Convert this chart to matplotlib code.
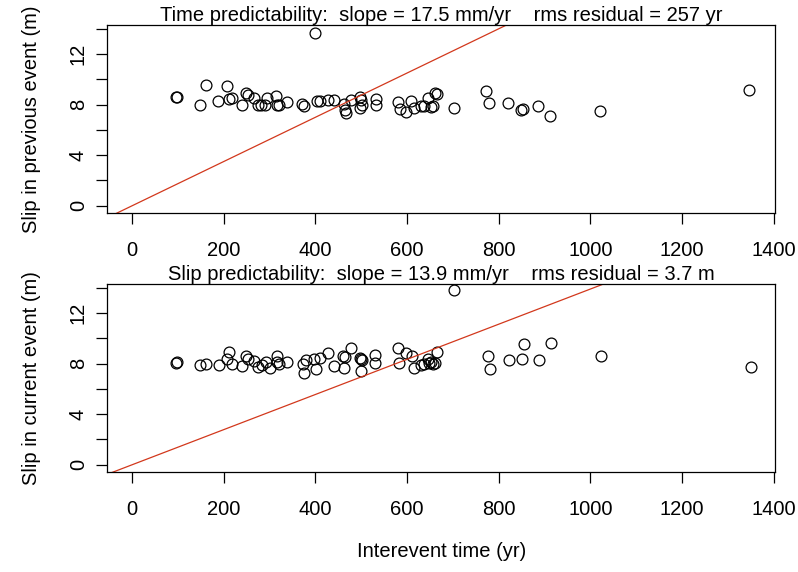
import matplotlib
matplotlib.use("Agg")
import matplotlib.pyplot as plt

plt.rcParams['font.family'] = ['Liberation Sans', 'DejaVu Sans']

# time predictability: interevent time vs slip in previous event
t_prev = [95, 97, 162, 148, 207, 188, 211, 217, 240, 249, 252, 267, 274, 281,
          289, 295, 314, 316, 320, 337, 371, 376, 400, 404, 411, 427, 440, 462,
          464, 467, 478, 497, 500, 498, 501, 532, 532, 580, 584, 598, 609, 615,
          631, 638, 645, 652, 657, 660, 666, 702, 773, 779, 820, 848, 854, 886,
          913, 1021, 1347]
slip_prev = [8.57, 8.6, 9.59, 7.99, 9.49, 8.29, 8.46, 8.5, 7.98, 8.9, 8.8, 8.5,
             8.0, 7.96, 8.0, 8.55, 8.66, 8.0, 7.96, 8.19, 8.03, 7.9, 13.7, 8.29,
             8.27, 8.4, 8.35, 8.03, 7.6, 7.3, 8.4, 8.6, 8.4, 7.75, 8.0, 8.45, 8.0,
             8.19, 7.62, 7.38, 8.27, 7.75, 7.9, 7.9, 8.5, 7.82, 7.9, 8.9, 8.85,
             7.77, 9.1, 8.16, 8.1, 7.58, 7.63, 7.92, 7.11, 7.47, 9.18]

# slip predictability: interevent time vs slip in current event
t_cur = [95, 97, 148, 162, 189, 211, 207, 218, 240, 249, 252, 267, 274, 284,
         293, 302, 316, 317, 320, 337, 374, 376, 380, 398, 402, 409, 427, 440,
         460, 465, 462, 478, 497, 500, 502, 500, 531, 531, 580, 583, 598, 611,
         615, 631, 638, 645, 648, 652, 656, 660, 666, 703, 776, 780, 823, 850,
         855, 889, 915, 1023, 1351]
slip_cur = [8.09, 8.15, 7.93, 8.0, 7.93, 8.93, 8.4, 8.01, 7.82, 8.61, 8.35, 8.2,
            7.7, 7.93, 8.14, 7.67, 8.59, 8.1, 8.0, 8.14, 8.0, 7.23, 8.27, 8.4,
            7.56, 8.46, 8.88, 7.8, 8.61, 8.53, 7.67, 9.2, 8.45, 8.35, 8.27, 7.43,
            8.67, 8.09, 9.27, 8.09, 8.88, 8.59, 7.62, 7.93, 8.0, 8.4, 8.05, 8.1,
            8.0, 8.02, 8.93, 13.8, 8.59, 7.54, 8.3, 8.38, 9.53, 8.25, 9.64, 8.61,
            7.75]

slope_time = 0.0175   # m/yr
slope_slip = 0.0139   # m/yr
titles = ["Time predictability:  slope = 17.5 mm/yr    rms residual = 257 yr",
          "Slip predictability:  slope = 13.9 mm/yr    rms residual = 3.7 m"]
ylabels = ["Slip in previous event (m)", "Slip in current event (m)"]

fig = plt.figure(figsize=(7.98, 5.72), dpi=100)
ax1 = fig.add_axes([0.1345, 0.6281, 0.8373, 0.3282])
ax2 = fig.add_axes([0.1345, 0.1753, 0.8373, 0.3282])

fs = 14.5
line_x = [-60, 1410]
for ax, x, y, s, ttl, yl in [(ax1, t_prev, slip_prev, slope_time, titles[0], ylabels[0]),
                             (ax2, t_cur, slip_cur, slope_slip, titles[1], ylabels[1])]:
    ax.plot(x, y, 'o', mfc='none', mec='black', ms=7.8, mew=0.9)
    ax.plot(line_x, [s * v for v in line_x], color='#d2381c', lw=0.9)
    ax.set_xlim(-54, 1404)
    ax.set_ylim(-0.55, 14.3)
    ax.set_xticks(range(0, 1401, 200))
    ax.set_yticks(range(0, 15, 2))
    ax.set_yticklabels(['0', '', '4', '', '8', '', '12', ''])
    ax.tick_params(direction='out', length=8, width=0.9, labelsize=fs)
    ax.tick_params(axis='x', pad=12)
    ax.tick_params(axis='y', pad=6)
    for lab in ax.get_yticklabels():
        lab.set_rotation(90)
        lab.set_va('center')
    for sp in ax.spines.values():
        sp.set_linewidth(0.9)
    ax.set_title(ttl, fontsize=fs, pad=2)
    ax.set_ylabel(yl, fontsize=fs, labelpad=20)

ax2.set_xlabel("Interevent time (yr)", fontsize=fs, labelpad=17)

fig.savefig("out.png", dpi=100)
